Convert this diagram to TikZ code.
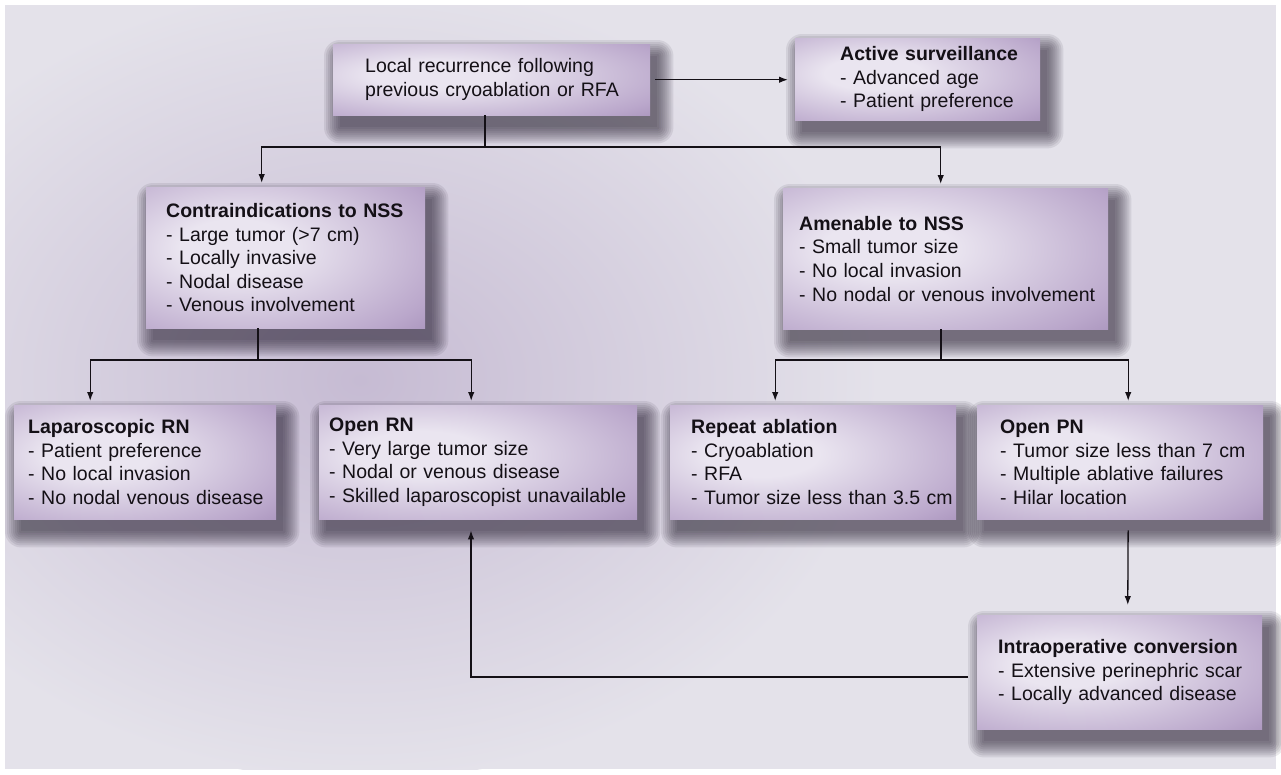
\documentclass[tikz,border=0pt]{standalone}
\usepackage{fontspec}
\setmainfont{Liberation Sans}
\usetikzlibrary{arrows.meta}

\definecolor{pagebg}{RGB}{228,226,234}
\definecolor{blobbg}{RGB}{198,187,211}
\definecolor{lilachi}{RGB}{234,229,240}
\definecolor{lilacmid}{RGB}{186,167,203}
\definecolor{lilaclo}{RGB}{148,124,170}
\definecolor{shadowink}{RGB}{36,28,46}
\definecolor{inkline}{RGB}{20,16,22}

\pgfdeclareradialshading{lilacglow}{\pgfpoint{-10bp}{4bp}}{color(0bp)=(lilachi); color(10bp)=(lilachi); color(36bp)=(lilacmid); color(52bp)=(lilaclo); color(100bp)=(lilaclo)}

\pgfdeclarelayer{backdrop}
\pgfdeclarelayer{shadows}
\pgfsetlayers{backdrop,shadows,main}

\tikzset{
  box/.style={shading=lilacglow, anchor=north west, align=left,
    inner xsep=0pt, inner ysep=0pt, text=inkline,
    font=\fontsize{19.5}{23.6}\selectfont},
  lpad/.style={execute at begin node={\leftskip=#1\relax\rightskip=-40pt plus 1fil\relax}},
  line/.style={draw=inkline, line width=1.3pt},
  arr/.style={line, -{Latex[length=9pt,width=6.5pt]}},
}

\begin{document}
\begin{tikzpicture}[x=1pt,y=-1pt]
  \useasboundingbox (0,0) rectangle (1281,774);

  %% background
  \begin{pgfonlayer}{backdrop}
    \fill[white] (0,0) rectangle (1281,774);
    \begin{scope}
      \clip (5,5) rectangle (1276,769);
      \fill[pagebg] (5,5) rectangle (1276,769);
      \shade[inner color=blobbg, outer color=pagebg] (360,380) ellipse [x radius=520, y radius=400];
    \end{scope}
  \end{pgfonlayer}

  %% boxes
  \node[box, lpad=32pt, text width=317pt, minimum height=71pt] (rec) at (333,44)
    {Local recurrence following\\previous cryoablation or RFA};
  \node[box, lpad=45pt, text width=245pt, minimum height=82pt] (surv) at (795,38)
    {\textbf{Active surveillance}\\- Advanced age\\- Patient preference};
  \node[box, lpad=20pt, text width=279pt, minimum height=141pt] (contra) at (146,187)
    {\textbf{Contraindications to NSS}\\- Large tumor (>7 cm)\\- Locally invasive\\- Nodal disease\\- Venous involvement};
  \node[box, lpad=16pt, text width=325pt, minimum height=141pt] (amen) at (783,188)
    {\textbf{Amenable to NSS}\\- Small tumor size\\- No local invasion\\- No nodal or venous involvement};
  \node[box, lpad=14pt, text width=262pt, minimum height=114pt] (lapRN) at (14,405)
    {\textbf{Laparoscopic RN}\\- Patient preference\\- No local invasion\\- No nodal venous disease};
  \node[box, lpad=10pt, text width=318pt, minimum height=114pt] (openRN) at (319,405)
    {\textbf{Open RN}\\- Very large tumor size\\- Nodal or venous disease\\- Skilled laparoscopist unavailable};
  \node[box, lpad=21pt, text width=286pt, minimum height=114pt] (reabl) at (670,405)
    {\textbf{Repeat ablation}\\- Cryoablation\\- RFA\\- Tumor size less than 3.5 cm};
  \node[box, lpad=23pt, text width=286pt, minimum height=114pt] (openPN) at (977,405)
    {\textbf{Open PN}\\- Tumor size less than 7 cm\\- Multiple ablative failures\\- Hilar location};
  \node[box, lpad=21pt, text width=285pt, minimum height=114pt] (conv) at (977,615)
    {\textbf{Intraoperative conversion}\\- Extensive perinephric scar\\- Locally advanced disease};

  %% soft shadows under the boxes
  \begin{pgfonlayer}{shadows}
    \foreach \n in {rec,surv,contra,amen,lapRN,openRN,reabl,openPN,conv}
      \foreach \r in {0,2,...,16}
        \fill[shadowink, opacity=0.09, rounded corners=\r pt]
          ([xshift={(7-\r)*1pt}, yshift={(-12+\r)*1pt}]\n.north west) rectangle
          ([xshift={(7+\r)*1pt}, yshift={(-12-\r)*1pt}]\n.south east);
  \end{pgfonlayer}

  %% junctions
  \coordinate (j0) at (485,147);
  \coordinate (j1) at (258,360);
  \coordinate (j2) at (941,360);
  \coordinate (j3) at (471,677);

  %% connectors
  \draw[arr, shorten <=5pt, shorten >=7pt] (rec.east) -- (rec.east -| surv.west);
  \draw[line] (rec.south -| j0) -- (j0);
  \draw[arr, shorten >=4pt] (j0) -| ([xshift=-24pt]contra.north);
  \draw[arr, shorten >=4pt] (j0) -| ([xshift=-5pt]amen.north);
  \draw[line] (contra.south -| j1) -- (j1);
  \draw[arr, shorten >=4pt] (j1) -| ([xshift=-55pt]lapRN.north);
  \draw[arr, shorten >=4pt] (j1) -| ([xshift=-7pt]openRN.north);
  \draw[line] (amen.south -| j2) -- (j2);
  \draw[arr, shorten >=4pt] (j2) -| ([xshift=-38pt]reabl.north);
  \draw[arr, shorten >=4pt] (j2) -| ([xshift=8pt]openPN.north);
  \draw[arr, shorten <=11pt, shorten >=10pt] ([xshift=8pt]openPN.south) -- ([xshift=8pt]conv.north);
  \draw[arr, shorten <=9pt, shorten >=11pt] (conv.west |- j3) -- (j3) -- (j3 |- openRN.south);

\end{tikzpicture}
\end{document}
